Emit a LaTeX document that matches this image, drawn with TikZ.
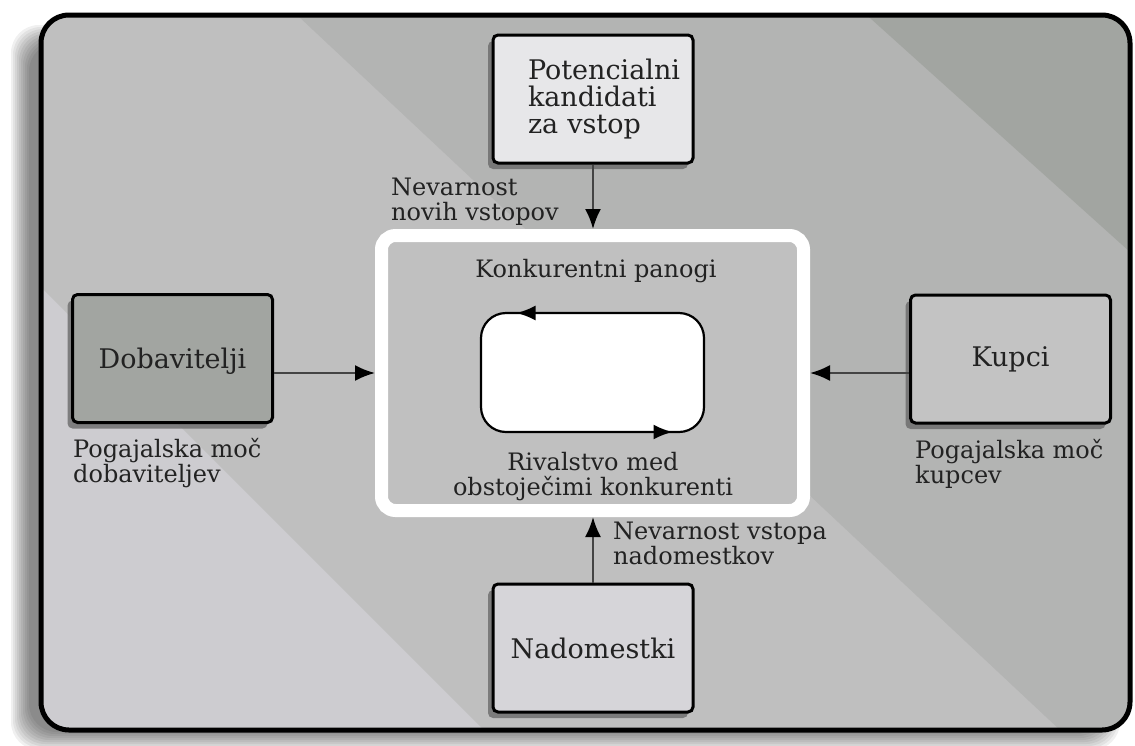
\documentclass[tikz,border=0pt]{standalone}
\usepackage{fontspec}
\setmainfont{DejaVu Serif}
\usetikzlibrary{arrows.meta,shadows}

% palette
\definecolor{bandA}{HTML}{CDCCD0}
\definecolor{bandB}{HTML}{BFBFBF}
\definecolor{bandC}{HTML}{B3B4B3}
\definecolor{bandD}{HTML}{A2A5A1}
\definecolor{entrantFill}{HTML}{E7E7E9}
\definecolor{supplierFill}{HTML}{A2A5A1}
\definecolor{buyerFill}{HTML}{C3C3C3}
\definecolor{substituteFill}{HTML}{D6D5D9}
\definecolor{coreFill}{HTML}{C0C0C0}
\definecolor{arrowGray}{HTML}{444444}
\definecolor{inkGray}{HTML}{222222}
\definecolor{shadowGray}{HTML}{6A6A6A}

\newcommand\forcefont{\fontsize{27}{27}\selectfont}
\newcommand\notefont{\fontsize{24}{25}\selectfont}

\tikzset{
  forcebox/.style={draw=black, line width=3pt, rounded corners=5pt,
    minimum width=200pt, minimum height=128pt, inner sep=0pt,
    font=\forcefont, text=inkGray,
    drop shadow={shadow xshift=-5pt, shadow yshift=-6pt, fill=shadowGray, opacity=0.8}},
  forcenote/.style={anchor=north west, align=left, inner sep=0pt,
    font=\notefont, text=inkGray},
  corenote/.style={inner sep=0pt, align=center, font=\notefont, text=inkGray},
  pressure/.style={draw=arrowGray, line width=2.2pt,
    -{Latex[length=20pt,width=16pt,color=black]}},
  rivalry/.style={draw=black, line width=2.2pt,
    -{Latex[length=19pt,width=15pt]}},
}

\begin{document}
\begin{tikzpicture}[x=1pt,y=-1pt]
\useasboundingbox (0,0) rectangle (1135,745);

% soft shadow of the outer frame
\foreach \i in {0,...,9}
  \fill[black, opacity=0.06, rounded corners=28pt]
    (11+2*\i,25+2*\i) rectangle (1120-2*\i,750-2*\i);

% diagonal background bands inside the frame
\begin{scope}
  \clip[rounded corners=28pt] (41,15) rectangle (1130,730);
  \fill[bandA] (0,0) rectangle (1135,745);
  \fill[bandB] (0,0) -- (0,246) -- (500,746) -- (1200,746) -- (1200,0) -- cycle;
  \fill[bandC] (281,0) -- (1077,746) -- (1200,746) -- (1200,0) -- cycle;
  \fill[bandD] (850,0) -- (1200,315) -- (1200,0) -- cycle;
\end{scope}
\draw[line width=5pt, rounded corners=28pt] (41,15) rectangle (1130,730);

% the five forces
\node[forcebox, fill=entrantFill, text width=130pt, align=left] (pot) at (593,99)
  {Potencialni\\kandidati\\za vstop};
\node[forcebox, fill=supplierFill, text depth=0pt] (sup) at (172.5,358.5) {Dobavitelji};
\node[forcebox, fill=buyerFill] (buy) at (1010.5,359) {Kupci};
\node[forcebox, fill=substituteFill] (sub) at (593,648) {Nadomestki};

% industry competitors
\node[draw=white, line width=13pt, rounded corners=14pt, fill=coreFill,
      minimum width=422pt, minimum height=275pt] (core) at (592.5,373) {};
\node[corenote, anchor=base] (panogi) at (596,277) {Konkurentni panogi};
\node[draw=black, line width=2.2pt, fill=white, rounded corners=25pt,
      minimum width=223pt, minimum height=119pt, outer sep=0pt] (loop) at (592.5,372.5) {};
\draw[rivalry] (loop.north) -- ([xshift=-76pt]loop.north);
\draw[rivalry] (loop.south) -- ([xshift=80pt]loop.south);
\node[corenote, anchor=north] (rival) at (593,452) {Rivalstvo med\\obstoječimi konkurenti};

% pressures on the industry
\draw[pressure] (pot.south) -- (pot.south |- core.north);
\draw[pressure] (sup.east |- core.west) -- (core.west);
\draw[pressure] (buy.west |- core.east) -- (core.east);
\draw[pressure] (sub.north) -- (sub.north |- core.south);

% captions
\node[forcenote] (nevNew) at (391,177.5) {Nevarnost\\novih vstopov};
\node[forcenote] (pogSup) at (73,438) {Pogajalska moč\\dobaviteljev};
\node[forcenote] (pogBuy) at (915,439) {Pogajalska moč\\kupcev};
\node[forcenote] (nevSub) at (613,521.5) {Nevarnost vstopa\\nadomestkov};
\end{tikzpicture}
\end{document}
